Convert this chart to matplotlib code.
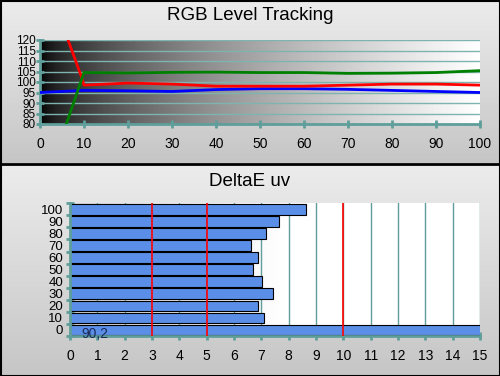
import numpy as np
import matplotlib
matplotlib.use("Agg")
import matplotlib.pyplot as plt

plt.rcParams["font.family"] = ["Liberation Sans", "DejaVu Sans"]

# --- data -------------------------------------------------------------
red_x = [5, 9.5, 10, 20, 30, 40, 50, 60, 70, 80, 90, 100]
red_y = [128, 102, 98.5, 99.5, 99, 98, 98, 98, 98.5, 99, 99, 98.5]
green_x = [5, 10, 20, 30, 40, 50, 60, 70, 80, 90, 100]
green_y = [74, 104.5, 104.3, 104.6, 104.7, 104.5, 104.5, 104.1, 104.2, 104.5, 105.4]
blue_x = [0, 10, 20, 30, 40, 50, 60, 70, 80, 90, 100]
blue_y = [95, 96, 95.8, 95.5, 96.4, 96.8, 96.8, 96.5, 96, 95.5, 95]

levels = ["0", "10", "20", "30", "40", "50", "60", "70", "80", "90", "100"]
delta_e = [90.2, 7.11, 6.89, 7.44, 7.04, 6.71, 6.89, 6.63, 7.16, 7.66, 8.63]
ref_lines = [3, 5, 10]

TEAL = "#5f9e9a"
GRID = "#7fb3b0"
FS = 10

fig = plt.figure(figsize=(5, 3.76), dpi=100)

# background panels with soft vertical gradients
bg = fig.add_axes([0, 0, 1, 1])
bg.axis("off")
grad = np.linspace(0, 1, 100)[:, None]
grey = matplotlib.colors.LinearSegmentedColormap.from_list("g", ["#ececec", "#c6c6c6"])
bg.imshow(grad, extent=(0, 500, 163, 0), aspect="auto", cmap=grey)
bg.imshow(grad, extent=(0, 500, 376, 165), aspect="auto", cmap=grey)
bg.plot([0, 500], [164, 164], color="black", lw=2)
bg.add_patch(plt.Rectangle((0.5, 0.5), 499, 375, fill=False, ec="black", lw=1.5))
bg.set_xlim(0, 500)
bg.set_ylim(376, 0)

fig.text(0.5, 1 - 15 / 376, "RGB Level Tracking", ha="center", va="center", fontsize=13.5)
fig.text(0.5, 1 - 181 / 376, "DeltaE uv", ha="center", va="center", fontsize=13.5)

# --- top chart --------------------------------------------------------
ax1 = fig.add_axes([40 / 500, 1 - 124 / 376, 440 / 500, 84 / 376])
shade = (np.linspace(0, 1, 256) ** 0.6)[None, :]
ax1.imshow(shade, extent=(0, 100, 80, 120), aspect="auto", cmap="gray", vmin=0, vmax=1, zorder=0)
for v in range(85, 125, 5):
    ax1.axhline(v, color=GRID, lw=1, zorder=1)
ax1.plot(blue_x, blue_y, color="#0000ff", lw=2, zorder=3)
ax1.plot(red_x, red_y, color="#ff0000", lw=2, zorder=3)
ax1.plot(green_x, green_y, color="#008000", lw=2, zorder=4)
ax1.set_xlim(0, 100)
ax1.set_ylim(80, 120)
ax1.set_xticks(range(0, 101, 10))
ax1.set_yticks(range(80, 121, 5))
for s in ["top", "right"]:
    ax1.spines[s].set_visible(False)
for s in ["left", "bottom"]:
    ax1.spines[s].set_color(TEAL)
    ax1.spines[s].set_linewidth(2)
ax1.tick_params(axis="x", direction="inout", length=6, width=2, color=TEAL, labelsize=FS, pad=6)
ax1.tick_params(axis="y", direction="inout", length=6, width=2, color=TEAL, labelsize=8.5, pad=0)

# --- bottom chart -----------------------------------------------------
ax2 = fig.add_axes([70 / 500, 1 - 336 / 376, 410 / 500, 133.3 / 376])
pale = (np.clip(np.linspace(0, 1, 256) * 1.9, 0, 1) ** 0.8)[None, :]
pcm = matplotlib.colors.LinearSegmentedColormap.from_list("p", ["#d4d4d4", "#ffffff"])
ax2.imshow(pale, extent=(0, 15, -0.5, 10.55), aspect="auto", cmap=pcm, zorder=0)
for v in range(1, 16):
    ax2.axvline(v, color=TEAL, lw=1, zorder=1)
ypos = np.arange(len(levels))
ax2.barh(ypos, delta_e, height=0.88, color="#5b8ee6", edgecolor="black", lw=0.8, zorder=2)
for v in ref_lines:
    ax2.axvline(v, color="#ff0000", lw=1.2, zorder=3)
ax2.text(0.4, ypos[0] - 0.3, f"{delta_e[0]:.1f}".replace(".", ","), fontsize=FS,
         color="#1a2a5a", va="center", zorder=4)
ax2.set_xlim(0, 15)
ax2.set_ylim(-0.5, 10.55)
ax2.set_xticks(range(0, 16))
ax2.set_yticks(ypos)
ax2.set_yticklabels(levels)
ax2.set_yticks(np.arange(-0.5, 10.6, 1), minor=True)
for s in ["top", "right"]:
    ax2.spines[s].set_visible(False)
for s in ["left", "bottom"]:
    ax2.spines[s].set_color(TEAL)
    ax2.spines[s].set_linewidth(2)
ax2.tick_params(axis="x", direction="inout", length=6, width=2, color=TEAL, labelsize=FS, pad=6)
ax2.tick_params(axis="y", which="major", length=0, labelsize=9.5, pad=5)
ax2.tick_params(axis="y", which="minor", direction="inout", length=6, width=2, color=TEAL)

fig.savefig("out.png", dpi=100)
